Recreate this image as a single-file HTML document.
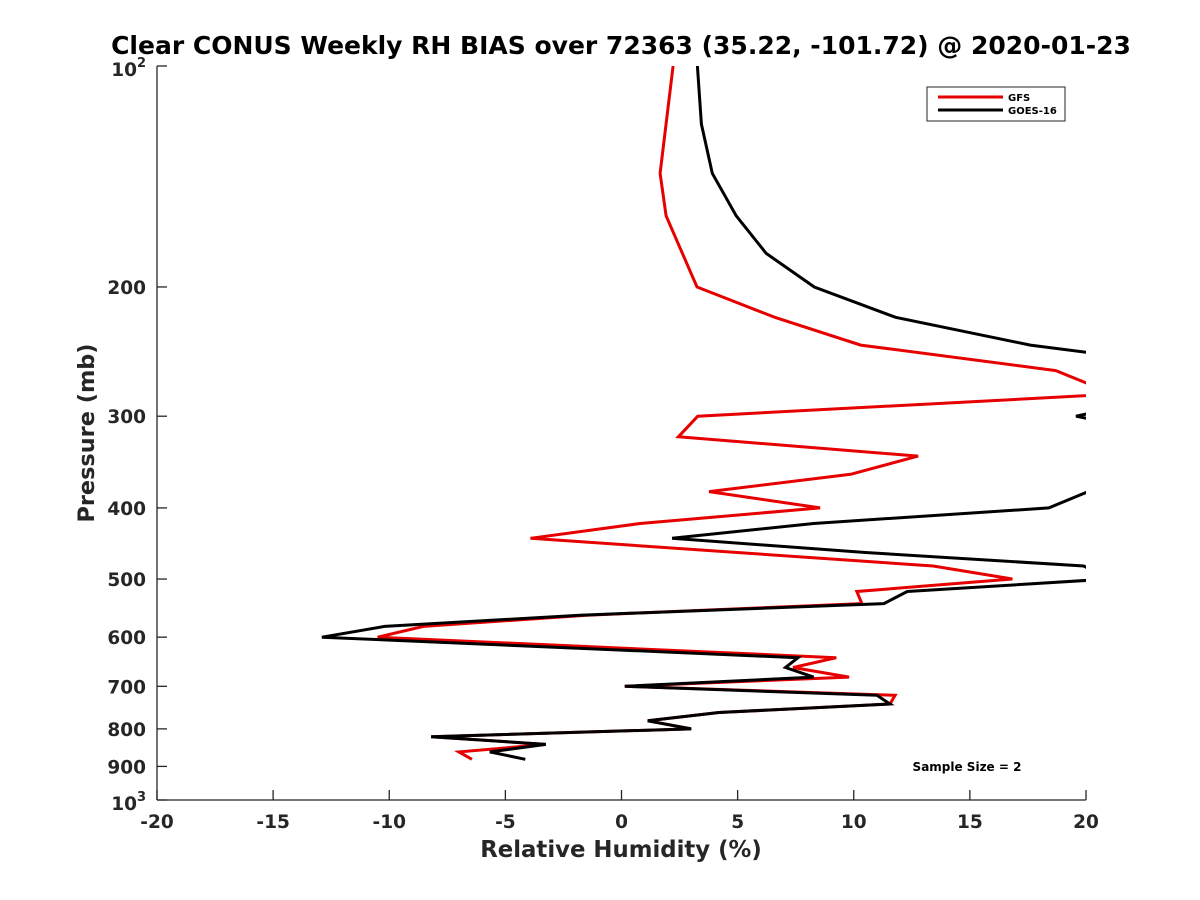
<!DOCTYPE html>
<html><head><meta charset="utf-8"><style>
body{margin:0;background:#fff}
svg{display:block}
text{font-family:"DejaVu Sans","Liberation Sans",sans-serif;font-weight:bold}
</style></head><body>
<svg id="chart" width="1200" height="900" viewBox="0 0 1200 900" xmlns="http://www.w3.org/2000/svg">
<defs><clipPath id="plotclip"><rect x="157" y="66" width="929" height="734"/></clipPath></defs>
<text x="621" y="54" text-anchor="middle" font-size="25" fill="#000">Clear CONUS Weekly RH BIAS over 72363 (35.22, -101.72) @ 2020-01-23</text>
<g id="axes"></g>
<g id="series" clip-path="url(#plotclip)"></g>
<text x="621" y="857" text-anchor="middle" font-size="22.8" fill="#262626">Relative Humidity (%)</text>
<text transform="translate(94,433) rotate(-90)" text-anchor="middle" font-size="22.4" fill="#262626">Pressure (mb)</text>
<text x="967" y="771" text-anchor="middle" font-size="12" fill="#000">Sample Size = 2</text>
<g>
<rect x="927" y="87" width="138" height="34" fill="#fff" stroke="#262626" stroke-width="1"/>
<line x1="938" y1="97" x2="1003" y2="97" stroke="#e60000" stroke-width="3"/>
<text x="1008" y="101" font-size="10" fill="#000">GFS</text>
<line x1="938" y1="110" x2="1003" y2="110" stroke="#000" stroke-width="3"/>
<text x="1008" y="114" font-size="10" fill="#000">GOES-16</text>
</g>
</svg>
<script>
const xTicks=[-20,-15,-10,-5,0,5,10,15,20];
const yTicks=[100,200,300,400,500,600,700,800,900,1000];
const gfsP=[100,140,160,200,220,240,260,280,300,320,340,360,380,400,420,440,480,500,520,540,560,580,600,640,660,680,700,720,740,760,780,800,820,840,860,880];
const gfsX=[2.22,1.66,1.92,3.25,6.6,10.3,18.7,21.2,3.28,2.45,12.77,9.87,3.77,8.55,0.8,-3.92,13.42,16.83,10.13,10.35,-1.5,-8.53,-10.5,9.25,7.39,9.8,0.14,11.78,11.56,4.2,1.13,3.0,-8.2,-3.26,-7.0,-6.44];
const goesP=[100,120,140,160,180,200,220,240,260,280,300,320,340,360,380,400,420,440,460,480,500,520,540,560,580,600,640,660,680,700,720,740,760,780,800,820,840,860,880];
const goesX=[3.27,3.44,3.91,4.94,6.23,8.3,11.8,17.6,26.1,24,19.57,24,24,24,20.1,18.4,8.27,2.18,10.5,19.9,21,12.3,11.3,-1.8,-10.2,-12.9,7.6,7.06,8.27,0.14,11.0,11.56,4.2,1.13,3.0,-8.2,-3.26,-5.67,-4.14];
const NS='http://www.w3.org/2000/svg';
const X0=157,X1=1086,Y0=66,Y1=800;
function sx(v){return X0+(v+20)/40*(X1-X0);}
function sy(p){return Y0+Math.log10(p/100)*(Y1-Y0);}
function mk(t,a,parent){const e=document.createElementNS(NS,t);for(const k in a)e.setAttribute(k,a[k]);parent.appendChild(e);return e;}
const axes=document.getElementById('axes');
const c='#262626';
let l=mk('line',{x1:X0,y1:Y0,x2:X0,y2:Y1,stroke:c,'stroke-width':1.3},axes);


l=mk('line',{x1:X0,y1:Y1,x2:X1,y2:Y1,stroke:c,'stroke-width':1.3},axes);


xTicks.forEach(v=>{
 const t=mk('line',{x1:sx(v),y1:Y1,x2:sx(v),y2:Y1-10,stroke:c,'stroke-width':1.3},axes);
 
 
 const tx=mk('text',{x:sx(v),y:828,'text-anchor':'middle','font-size':18.5,fill:c},axes);
 tx.textContent=v;
 
 
});
yTicks.forEach(p=>{
 const t=mk('line',{x1:X0,y1:sy(p),x2:X0+10,y2:sy(p),stroke:c,'stroke-width':1.3},axes);
 
 
 const tx=mk('text',{x:146,y:sy(p)+7,'text-anchor':'end','font-size':18.5,fill:c},axes);
 
 
 if(p===100||p===1000){
  tx.setAttribute('y',sy(p)+10);
  tx.textContent='10';
  const s=mk('tspan',{dy:-9,'font-size':13},tx);s.textContent=p===100?'2':'3';
 } else tx.textContent=p;
});
const sg=document.getElementById('series');
function draw(P,X,col,name){
 const pts=P.map((p,i)=>sx(X[i]).toFixed(1)+','+sy(p).toFixed(1)).join(' ');
 const pl=mk('polyline',{points:pts,fill:'none',stroke:col,'stroke-width':3,'stroke-linejoin':'miter'},sg);
 
 
}
draw(gfsP,gfsX,'#e60000','gfs-line');
draw(goesP,goesX,'#000','goes-16-line');
</script>
</body></html>
